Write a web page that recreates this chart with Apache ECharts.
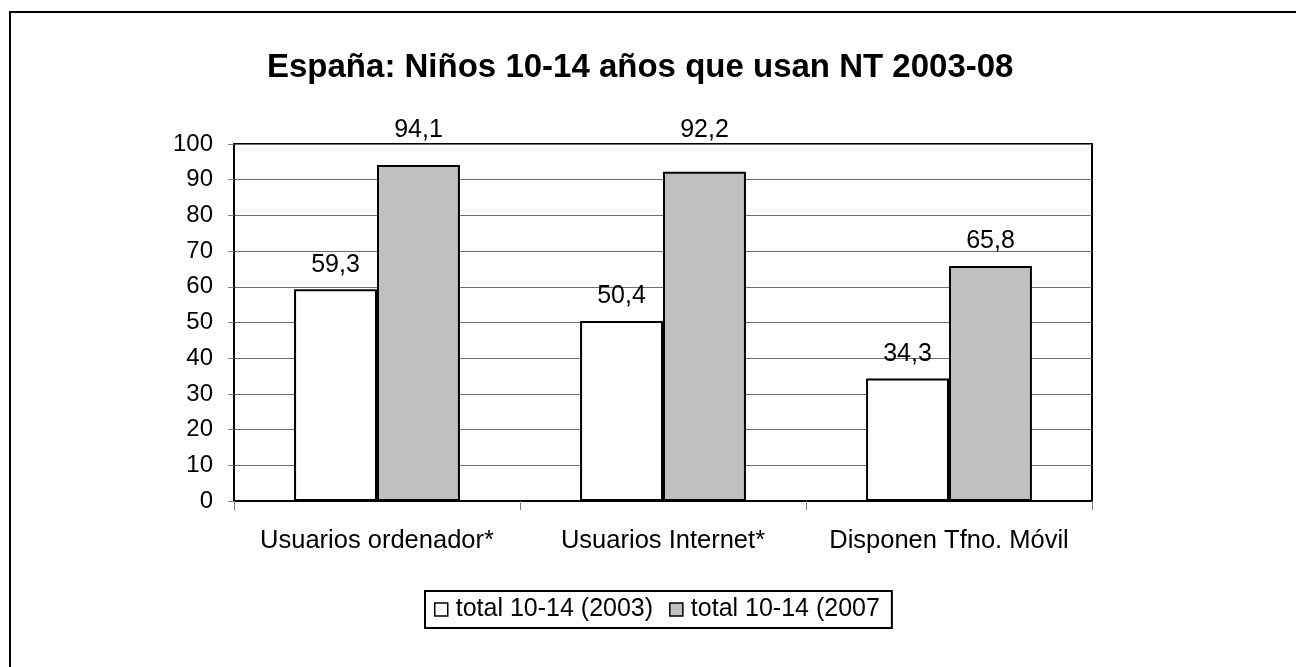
<!DOCTYPE html>
<html>
<head>
<meta charset="utf-8">
<script src="https://cdn.jsdelivr.net/npm/echarts@6/dist/echarts.min.js"></script>
<style>
html,body{margin:0;padding:0;background:#fff;}
#chart{width:1296px;height:667px;}
</style>
</head>
<body>
<div id="chart"></div>
<script>
const titleText = 'España: Niños 10-14 años que usan NT 2003-08';
const categories = ['Usuarios ordenador*', 'Usuarios Internet*', 'Disponen Tfno. Móvil'];
const seriesNames = ['total 10-14 (2003)', 'total 10-14 (2007'];
const values2003 = [59.3, 50.4, 34.3];
const values2007 = [94.1, 92.2, 65.8];
const yTicks = [0, 10, 20, 30, 40, 50, 60, 70, 80, 90, 100];

const FONT = '"Liberation Sans", Arial, sans-serif';
const gridTop = 144, gridBottom = 166;
const pxPerUnit = (667 - gridTop - gridBottom) / 100;

function items(vals) {
  return vals.map(v => {
    const it = { value: v };
    if (v > 90) {
      it.label = { offset: [0, -Math.round((96.9 - v) * pxPerUnit)] };
    }
    return it;
  });
}

const labelCfg = {
  show: true,
  position: 'top',
  distance: 12,
  color: '#000',
  fontFamily: FONT,
  fontSize: 25,
  formatter: p => String(p.value).replace('.', ',')
};

const chart = echarts.init(document.getElementById('chart'), null, { renderer: 'canvas' });
chart.setOption({
  backgroundColor: '#fff',
  animation: false,
  graphic: [{
    type: 'rect',
    shape: { x: 10, y: 12, width: 1400, height: 800 },
    style: { fill: 'none', stroke: '#000', lineWidth: 2 },
    z: 100
  }],
  title: {
    text: titleText,
    left: 262,
    top: 46,
    textStyle: { fontFamily: FONT, fontSize: 33, fontWeight: 'bold', color: '#000' }
  },
  legend: {
    data: seriesNames,
    left: 425,
    top: 591,
    orient: 'horizontal',
    padding: [6, 12, 6, 9],
    itemGap: 16,
    itemWidth: 13,
    itemHeight: 13,
    borderColor: '#000',
    borderWidth: 2,
    icon: 'rect',
    itemStyle: { borderColor: '#000', borderWidth: 1.5 },
    textStyle: { fontFamily: FONT, fontSize: 25, color: '#000', padding: [0, 0, 0, 3] }
  },
  grid: {
    left: 234, right: 204, top: gridTop, bottom: gridBottom,
    show: true, borderColor: '#000', borderWidth: 2, backgroundColor: 'transparent'
  },
  xAxis: {
    type: 'category',
    data: categories,
    axisLine: { show: true, lineStyle: { color: '#000', width: 2 } },
    axisTick: { show: true, interval: 0, length: 9, alignWithLabel: false, lineStyle: { color: '#808080', width: 1 } },
    axisLabel: { interval: 0, margin: 27, fontFamily: FONT, fontSize: 25.5, color: '#000' },
    splitLine: { show: false }
  },
  yAxis: {
    type: 'value',
    min: yTicks[0],
    max: yTicks[yTicks.length - 1],
    interval: yTicks[1] - yTicks[0],
    axisLine: { show: true, lineStyle: { color: '#000', width: 2 } },
    axisTick: { show: true, length: 6, lineStyle: { color: '#808080', width: 1 } },
    axisLabel: { margin: 21, fontFamily: FONT, fontSize: 24, color: '#000' },
    splitLine: { show: true, lineStyle: { color: '#6e6e6e', width: 1 } }
  },
  series: [
    {
      name: seriesNames[0],
      type: 'bar',
      data: items(values2003),
      barGap: '0%',
      barCategoryGap: '42%',
      itemStyle: { color: '#ffffff', borderColor: '#000', borderWidth: 2 },
      label: labelCfg
    },
    {
      name: seriesNames[1],
      type: 'bar',
      data: items(values2007),
      barGap: '0%',
      barCategoryGap: '42%',
      itemStyle: { color: '#c0c0c0', borderColor: '#000', borderWidth: 2 },
      label: labelCfg
    }
  ]
});
</script>
</body>
</html>
